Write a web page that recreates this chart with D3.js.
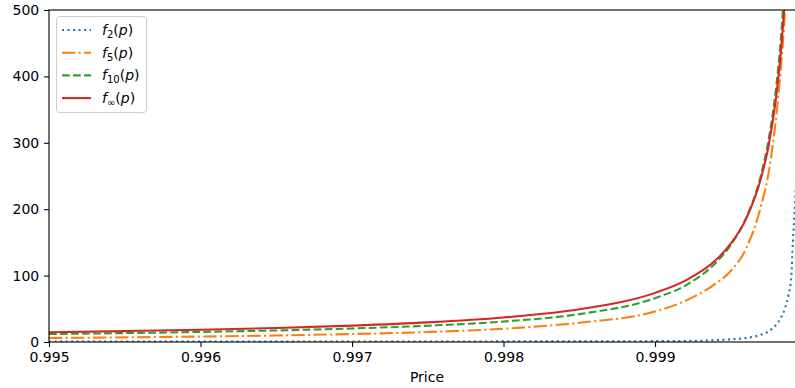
<!DOCTYPE html>
<html>
<head>
<meta charset="utf-8">
<style>
  body { margin: 0; background: #fff; }
  text { font-family: "DejaVu Sans", sans-serif; }
</style>
</head>
<body>
<svg class="chart"></svg>
<script src="https://cdnjs.cloudflare.com/ajax/libs/d3/7.8.5/d3.min.js"></script>
<script>
// values
const prices = [0.995, 0.9955, 0.996, 0.9965, 0.997, 0.9975, 0.998, 0.9985, 0.999,
                0.9992, 0.9994, 0.9995, 0.9996, 0.9997, 0.99975, 0.9998, 0.99983, 0.99985, 0.99986];
const fInf = [14.8, 16.4, 18.5, 21.1, 24.7, 29.6, 37, 49.3, 74,
              92.5, 123, 148, 185, 247, 296, 370, 435, 493, 529];
const f10  = [12, 13.4, 15.2, 17.4, 20.4, 24.5, 30.8, 42, 66,
              85, 119, 146, 186, 252, 305, 385, 455, 520, 560];
const f5   = [6, 7, 8.2, 9.8, 12, 15, 20, 29, 46,
              62, 88, 107, 140, 205, 255, 340, 410, 470, 510];

const pricesF2 = [0.995, 0.996, 0.997, 0.998, 0.999, 0.9993, 0.9995, 0.9996, 0.9997,
                  0.99975, 0.9998, 0.99983, 0.99986, 0.99988, 0.9999, 0.99991, 0.99992, 0.99993];
const f2 = [0.5, 0.6, 0.7, 0.9, 1.3, 2, 4, 6, 11,
            16, 26, 36, 52, 70, 100, 150, 192, 235];

const xTicks = [0.995, 0.996, 0.997, 0.998, 0.999];
const yTicks = [0, 100, 200, 300, 400, 500];

width  = 795
height = 388
margin = ({top: 10, right: -5, bottom: 46, left: 49})

const x = d3.scaleLinear()
    .domain([0.995, 0.999957])
    .range([margin.left, width - margin.right]);

const y = d3.scaleLinear()
    .domain([0, 500])
    .range([height - margin.bottom, margin.top]);

const svg = d3.select("svg")
    .attr("width", width)
    .attr("height", height)
    .attr("viewBox", [0, 0, width, height]);

svg.append("clipPath").attr("id", "plot")
  .append("rect")
    .attr("x", margin.left).attr("y", margin.top)
    .attr("width", x.range()[1] - margin.left)
    .attr("height", y(0) - margin.top);

const lw = 2.08;
const series = [
  {name: "2",  px: pricesF2, v: f2,   color: "#1f77b4", dash: "2.08,3.44"},
  {name: "5",  px: prices,   v: f5,   color: "#ff7f0e", dash: "13.3,3.33,2.08,3.33"},
  {name: "10", px: prices,   v: f10,  color: "#2ca02c", dash: "7.7,3.33"},
  {name: "∞",  px: prices,   v: fInf, color: "#d62728", dash: null}
];

const line = d3.line()
    .x(d => x(d[0]))
    .y(d => y(d[1]))
    .curve(d3.curveMonotoneX);

svg.append("g")
    .attr("clip-path", "url(#plot)")
  .selectAll("path")
  .data(series)
  .join("path")
    .attr("fill", "none")
    .attr("stroke", d => d.color)
    .attr("stroke-width", lw)
    .attr("stroke-dasharray", d => d.dash)
    .attr("d", d => line(d.px.map((p, i) => [p, d.v[i]])));

// axes
const xAxis = g => g
    .attr("transform", `translate(0,${y(0)})`)
    .call(d3.axisBottom(x).tickValues(xTicks).tickFormat(d3.format(".3f")).tickSizeOuter(0).tickSize(4.9).tickPadding(4.9))
    .call(g => g.select(".domain").remove());

const yAxis = g => g
    .attr("transform", `translate(${margin.left},0)`)
    .call(d3.axisLeft(y).tickValues(yTicks).tickSizeOuter(0).tickSize(4.9).tickPadding(4.9))
    .call(g => g.select(".domain").remove());

svg.append("g").call(xAxis);
svg.append("g").call(yAxis);

svg.selectAll(".tick line").attr("stroke", "#000").attr("stroke-width", 1.1);
svg.selectAll(".tick text").attr("font-size", 14).attr("fill", "#000")
    .attr("font-family", "DejaVu Sans");

// spines
svg.append("rect")
    .attr("x", margin.left).attr("y", margin.top)
    .attr("width", x.range()[1] - margin.left)
    .attr("height", y(0) - margin.top)
    .attr("fill", "none")
    .attr("stroke", "#000")
    .attr("stroke-width", 1.1);

svg.append("text")
    .attr("x", (margin.left + 795) / 2 + 5)
    .attr("y", 382)
    .attr("text-anchor", "middle")
    .attr("font-size", 14)
    .text("Price");

// legend
const legend = svg.append("g");
legend.append("rect")
    .attr("x", 56.5).attr("y", 16.5)
    .attr("width", 90).attr("height", 96)
    .attr("rx", 3)
    .attr("fill", "#fff").attr("fill-opacity", 0.8)
    .attr("stroke", "#ccc").attr("stroke-width", 1);

const rows = legend.selectAll("g.item")
  .data(series)
  .join("g")
    .attr("class", "item")
    .attr("transform", (d, i) => `translate(0,${30 + i * 22.7})`);

rows.append("line")
    .attr("x1", 62).attr("x2", 91)
    .attr("stroke", d => d.color)
    .attr("stroke-width", lw)
    .attr("stroke-dasharray", d => d.dash);

const lab = rows.append("text")
    .attr("x", 102).attr("y", 5)
    .attr("font-size", 14);
lab.append("tspan").attr("font-style", "italic").text("f");
lab.append("tspan").attr("font-size", 10).attr("dy", 3).text(d => d.name);
lab.append("tspan").attr("dy", -3).text("(");
lab.append("tspan").attr("font-style", "italic").text("p");
lab.append("tspan").text(")");
</script>
</body>
</html>
